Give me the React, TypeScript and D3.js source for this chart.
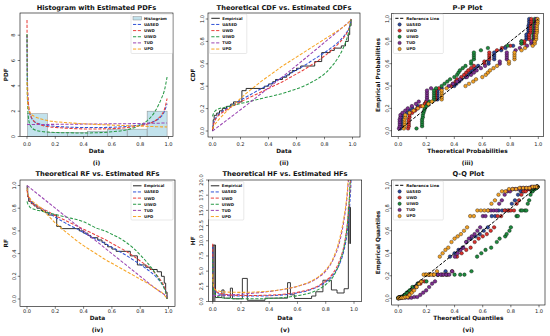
import React from "react";
import * as d3 from "d3";

const FONT = "'DejaVu Sans', 'Liberation Sans', sans-serif";

// ---------------- data ----------------
const seriesNames = ["UASED", "UWD", "UIWD", "TUD", "UPD"];
const lineColors = ["#2f52d6", "#e8403c", "#2a9a48", "#9b45b2", "#f7a525"];
const markerColors = ["#2f4a9e", "#d9302c", "#1f8a3e", "#7e2f90", "#f2a126"];

// (i) histogram + PDFs
const histEdges = [0.003, 0.144, 0.285, 0.426, 0.567, 0.708, 0.849, 0.99];
const histDensity = [1.8, 0.33, 0.33, 0.42, 0.58, 0.58, 2.0];
const pdfX = [0, 0.002, 0.005, 0.01, 0.02, 0.03, 0.05, 0.1, 0.15, 0.2, 0.3, 0.4, 0.5, 0.6, 0.7, 0.8, 0.85, 0.9, 0.93, 0.95, 0.97, 0.99];
const pdfUASED = [8.0, 4.6, 3.2, 2.4, 1.8, 1.5, 1.2, 0.95, 0.85, 0.8, 0.74, 0.71, 0.71, 0.73, 0.79, 0.92, 1.02, 1.2, 1.4, 1.6, 1.95, 2.6];
const pdfUWD = [9.2, 5.4, 3.7, 2.7, 1.9, 1.55, 1.2, 0.9, 0.78, 0.72, 0.64, 0.6, 0.6, 0.62, 0.7, 0.85, 0.98, 1.2, 1.45, 1.7, 2.1, 3.0];
const pdfUIWD = [8.1, 3.8, 2.3, 1.5, 0.95, 0.75, 0.55, 0.4, 0.35, 0.32, 0.29, 0.28, 0.3, 0.37, 0.52, 0.9, 1.25, 1.9, 2.5, 3.0, 3.6, 4.7];
const pdfTUD = [0.94, 0.94, 0.94, 0.94, 0.94, 0.94, 0.945, 0.95, 0.955, 0.96, 0.97, 0.98, 0.99, 1.0, 1.01, 1.03, 1.04, 1.05, 1.05, 1.06, 1.06, 1.07];
const pdfUPD = [4.3, 3.3, 2.6, 2.2, 1.9, 1.75, 1.6, 1.38, 1.25, 1.17, 1.08, 1.0, 0.95, 0.9, 0.86, 0.82, 0.8, 0.78, 0.77, 0.76, 0.76, 0.75];

// sample (unique values + counts), n = 50
const sampleValues = [0.001, 0.005, 0.012, 0.03, 0.05, 0.07, 0.10, 0.13, 0.15, 0.21, 0.24, 0.37, 0.40, 0.43, 0.45, 0.50, 0.53, 0.55, 0.57, 0.60, 0.63, 0.73, 0.78, 0.84, 0.87, 0.92, 0.95, 0.97, 0.98, 0.99];
const sampleCounts = [1, 4, 2, 1, 1, 1, 1, 1, 1, 5, 1, 1, 1, 1, 1, 1, 1, 1, 1, 1, 1, 2, 4, 1, 1, 1, 2, 3, 4, 3];

// (ii) CDFs, (iv) RFs
const cdfX = [0, 0.005, 0.01, 0.02, 0.03, 0.05, 0.1, 0.15, 0.2, 0.25, 0.3, 0.35, 0.4, 0.45, 0.5, 0.55, 0.6, 0.65, 0.7, 0.75, 0.8, 0.85, 0.9, 0.93, 0.95, 0.97, 0.98, 0.99];
const cdfUASED = [0.02, 0.06, 0.08, 0.11, 0.13, 0.155, 0.2, 0.24, 0.275, 0.31, 0.345, 0.38, 0.41, 0.445, 0.478, 0.51, 0.545, 0.58, 0.62, 0.66, 0.7, 0.745, 0.795, 0.835, 0.865, 0.905, 0.935, 1.0];
const cdfUWD = [0.01, 0.05, 0.07, 0.1, 0.12, 0.145, 0.19, 0.225, 0.26, 0.29, 0.32, 0.35, 0.38, 0.41, 0.44, 0.475, 0.51, 0.545, 0.585, 0.625, 0.67, 0.72, 0.78, 0.82, 0.855, 0.9, 0.935, 1.0];
const cdfUIWD = [0.13, 0.15, 0.165, 0.18, 0.19, 0.2, 0.215, 0.23, 0.245, 0.26, 0.275, 0.29, 0.305, 0.32, 0.335, 0.355, 0.375, 0.4, 0.43, 0.465, 0.51, 0.575, 0.66, 0.73, 0.79, 0.87, 0.92, 1.0];
const cdfTUD = [0, 0.005, 0.01, 0.019, 0.028, 0.047, 0.095, 0.142, 0.19, 0.238, 0.287, 0.336, 0.385, 0.434, 0.484, 0.534, 0.585, 0.636, 0.687, 0.739, 0.791, 0.843, 0.895, 0.926, 0.947, 0.968, 0.979, 1.0];
const cdfUPD = [0.02, 0.035, 0.045, 0.065, 0.08, 0.11, 0.175, 0.235, 0.29, 0.345, 0.395, 0.445, 0.49, 0.535, 0.58, 0.62, 0.66, 0.7, 0.74, 0.78, 0.82, 0.86, 0.9, 0.925, 0.945, 0.965, 0.98, 1.0];
const rfUASED = [0.98, 0.93, 0.91, 0.88, 0.86, 0.84, 0.8, 0.76, 0.72, 0.685, 0.65, 0.62, 0.585, 0.55, 0.52, 0.49, 0.455, 0.42, 0.385, 0.345, 0.305, 0.26, 0.21, 0.17, 0.14, 0.1, 0.07, 0.0];
const rfUWD = [0.96, 0.92, 0.9, 0.87, 0.85, 0.83, 0.8, 0.77, 0.735, 0.705, 0.675, 0.645, 0.615, 0.585, 0.555, 0.525, 0.49, 0.455, 0.42, 0.38, 0.335, 0.29, 0.235, 0.19, 0.155, 0.11, 0.075, 0.0];
const rfUIWD = [0.86, 0.84, 0.83, 0.81, 0.8, 0.79, 0.775, 0.76, 0.745, 0.73, 0.715, 0.7, 0.68, 0.65, 0.62, 0.6, 0.57, 0.54, 0.5, 0.45, 0.39, 0.32, 0.24, 0.18, 0.14, 0.09, 0.06, 0.0];
const rfTUD = [1.0, 0.995, 0.99, 0.98, 0.97, 0.95, 0.9, 0.85, 0.8, 0.75, 0.7, 0.65, 0.6, 0.55, 0.5, 0.45, 0.4, 0.35, 0.3, 0.25, 0.2, 0.15, 0.1, 0.075, 0.055, 0.04, 0.03, 0.02];
const rfUPD = [0.98, 0.93, 0.91, 0.89, 0.87, 0.85, 0.8, 0.735, 0.67, 0.615, 0.565, 0.515, 0.47, 0.43, 0.39, 0.35, 0.315, 0.28, 0.245, 0.21, 0.175, 0.14, 0.1, 0.075, 0.06, 0.035, 0.02, 0.0];

// (v) HFs
const hfX = [0, 0.003, 0.01, 0.02, 0.05, 0.1, 0.2, 0.3, 0.4, 0.5, 0.6, 0.7, 0.75, 0.8, 0.85, 0.9, 0.93, 0.95, 0.96, 0.97, 0.98, 0.99];
const hfUASED = [9.0, 4.0, 2.2, 1.6, 1.2, 1.0, 0.9, 0.9, 0.95, 1.1, 1.4, 2.0, 2.5, 3.2, 4.3, 6.3, 8.5, 11.0, 13.0, 16.0, 21.0, 40];
const hfUWD = [9.5, 4.5, 2.5, 1.8, 1.35, 1.15, 1.0, 1.0, 1.05, 1.2, 1.5, 2.1, 2.6, 3.4, 4.6, 6.9, 9.3, 12.3, 14.5, 18.0, 24.0, 45];
const hfUIWD = [7.0, 3.0, 1.6, 1.1, 0.7, 0.55, 0.45, 0.45, 0.5, 0.65, 0.95, 1.5, 2.0, 2.8, 4.0, 6.5, 9.0, 12.0, 14.5, 18.5, 25, 50];
const hfTUD = [0.95, 0.96, 0.97, 0.98, 1.0, 1.05, 1.2, 1.4, 1.65, 2.0, 2.5, 3.3, 4.0, 5.0, 6.8, 10.0, 13.5, 17.0, 19.8, 24, 33, 60];
const hfUPD = [4.5, 3.0, 2.2, 1.9, 1.7, 1.55, 1.5, 1.55, 1.7, 2.0, 2.5, 3.4, 4.1, 5.2, 7.0, 10.5, 14.0, 17.5, 20.5, 25, 35, 75];
const hfEmpEdges = [0, 0.02, 0.065, 0.08, 0.125, 0.14, 0.21, 0.245, 0.37, 0.53, 0.55, 0.58, 0.7, 0.73, 0.78, 0.84, 0.88, 0.93, 0.96, 0.975];
const hfEmpValues = [9.3, 0.65, 1.9, 0.55, 2.2, 0.45, 3.8, 0.2, 0.55, 3.1, 1.1, 0.5, 0.9, 1.6, 3.5, 1.9, 1.4, 2.1, 15.5];
const hfEmpEnd = 9.5;

// (iii) P-P: theoretical CDF at each unique sample value
const ppUASED = [0.015, 0.02, 0.025, 0.06, 0.08, 0.1, 0.14, 0.19, 0.2, 0.28, 0.31, 0.4, 0.415, 0.435, 0.45, 0.48, 0.5, 0.515, 0.53, 0.55, 0.57, 0.645, 0.685, 0.735, 0.765, 0.82, 0.88, 0.915, 0.93, 0.935];
const ppUWD = [0.07, 0.075, 0.08, 0.1, 0.12, 0.135, 0.16, 0.19, 0.2, 0.265, 0.29, 0.375, 0.39, 0.41, 0.42, 0.45, 0.47, 0.485, 0.5, 0.52, 0.54, 0.615, 0.65, 0.705, 0.74, 0.8, 0.9, 0.935, 0.945, 0.95];
const ppUIWD = [0.13, 0.17, 0.175, 0.18, 0.185, 0.19, 0.2, 0.21, 0.22, 0.255, 0.27, 0.31, 0.33, 0.35, 0.37, 0.4, 0.42, 0.43, 0.44, 0.46, 0.48, 0.52, 0.54, 0.59, 0.64, 0.78, 0.88, 0.965, 0.97, 0.975];
const ppTUD = [0.005, 0.01, 0.015, 0.03, 0.05, 0.068, 0.097, 0.126, 0.146, 0.205, 0.234, 0.36, 0.39, 0.42, 0.44, 0.49, 0.52, 0.54, 0.56, 0.59, 0.62, 0.725, 0.775, 0.838, 0.868, 0.92, 0.95, 0.975, 0.98, 0.985];
const ppUPD = [0.04, 0.045, 0.05, 0.08, 0.11, 0.14, 0.175, 0.215, 0.24, 0.31, 0.345, 0.48, 0.505, 0.535, 0.555, 0.6, 0.625, 0.64, 0.655, 0.68, 0.705, 0.79, 0.83, 0.88, 0.905, 0.96, 0.975, 0.985, 0.99, 0.995];

// (vi) Q-Q: theoretical quantile for each of the 50 ordered observations
const qqUASED = [0.0, 0.001, 0.004, 0.008, 0.013, 0.02, 0.03, 0.046, 0.067, 0.089, 0.112, 0.137, 0.164, 0.193, 0.221, 0.25, 0.279, 0.307, 0.336, 0.367, 0.4, 0.428, 0.457, 0.486, 0.517, 0.548, 0.579, 0.607, 0.636, 0.664, 0.688, 0.713, 0.738, 0.762, 0.786, 0.807, 0.829, 0.851, 0.871, 0.89, 0.906, 0.92, 0.933, 0.946, 0.956, 0.968, 0.978, 0.983, 0.987, 0.99];
const qqUWD = [0.0, 0.002, 0.005, 0.01, 0.018, 0.025, 0.04, 0.06, 0.078, 0.1, 0.129, 0.157, 0.186, 0.217, 0.25, 0.283, 0.317, 0.35, 0.383, 0.417, 0.45, 0.483, 0.514, 0.543, 0.571, 0.6, 0.629, 0.657, 0.681, 0.706, 0.731, 0.756, 0.779, 0.8, 0.822, 0.841, 0.858, 0.875, 0.891, 0.906, 0.918, 0.93, 0.942, 0.95, 0.958, 0.966, 0.975, 0.982, 0.986, 0.99];
const qqUIWD = [0.0, 0.0, 0.005, 0.01, 0.015, 0.02, 0.03, 0.045, 0.06, 0.08, 0.1, 0.14, 0.2, 0.28, 0.34, 0.4, 0.44, 0.47, 0.52, 0.56, 0.59, 0.62, 0.66, 0.7, 0.72, 0.76, 0.77, 0.79, 0.8, 0.84, 0.85, 0.87, 0.88, 0.9, 0.91, 0.92, 0.93, 0.94, 0.95, 0.955, 0.96, 0.965, 0.97, 0.975, 0.978, 0.98, 0.983, 0.985, 0.988, 0.99];
const qqTUD = [0.01, 0.03, 0.05, 0.072, 0.093, 0.114, 0.135, 0.156, 0.177, 0.198, 0.219, 0.24, 0.261, 0.282, 0.302, 0.322, 0.342, 0.362, 0.382, 0.402, 0.422, 0.442, 0.462, 0.482, 0.502, 0.522, 0.542, 0.562, 0.582, 0.601, 0.62, 0.64, 0.659, 0.678, 0.698, 0.717, 0.736, 0.756, 0.775, 0.794, 0.813, 0.832, 0.851, 0.87, 0.889, 0.908, 0.927, 0.946, 0.965, 0.984];
const qqUPD = [0.001, 0.004, 0.012, 0.023, 0.037, 0.05, 0.066, 0.08, 0.096, 0.112, 0.13, 0.146, 0.163, 0.18, 0.2, 0.218, 0.235, 0.255, 0.275, 0.295, 0.315, 0.335, 0.355, 0.378, 0.4, 0.422, 0.445, 0.467, 0.489, 0.511, 0.537, 0.562, 0.587, 0.612, 0.637, 0.662, 0.687, 0.712, 0.737, 0.762, 0.787, 0.812, 0.837, 0.862, 0.887, 0.911, 0.933, 0.955, 0.973, 0.986];

const unitTicks = [0, 0.2, 0.4, 0.6, 0.8, 1.0];
const pdfTicks = [0, 2, 4, 6, 8];
const hfTicks = [0, 2.5, 5, 7.5, 10, 12.5, 15, 17.5, 20];

// ---------------- derived ----------------
const nSample = d3.sum(sampleCounts);
const sortedSample: number[] = sampleValues.flatMap((v, i) => Array(sampleCounts[i]).fill(v));
const ecdfSteps: { x: number; y: number }[] = (() => {
  let c = 0;
  return sampleValues.map((v, i) => {
    c += sampleCounts[i];
    return { x: v, y: c / nSample };
  });
})();

// ---------------- layout ----------------
type Box = { l: number; r: number; t: number; b: number };
type PanelCfg = {
  id: string;
  box: Box;
  xr: [number, number];
  yd: [number, number];
  yr: [number, number];
  yTicks: number[];
  yFmt: (v: number) => string;
  title: string;
  xLabel: string;
  yLabel: string;
  tag: string;
  titleY: number;
  tickY: number;
  xLabelY: number;
  tagY: number;
  yTickX: number;
  yLabelX: number;
};

const f1 = d3.format(".1f");
const fInt = d3.format("d");

const TOP = { titleY: 10.2, tickY: 145.5, xLabelY: 152.6, tagY: 164.6 };
const BOT = { titleY: 176.4, tickY: 313.4, xLabelY: 320.2, tagY: 332 };

const panels: Record<string, PanelCfg> = {
  pdf: { id: "p1", box: { l: 20, r: 173, t: 13, b: 136.5 }, xr: [27, 168.5], yd: [0, 8], yr: [136.5, 35.2], yTicks: pdfTicks, yFmt: fInt,
    title: "Histogram with Estimated PDFs", xLabel: "Data", yLabel: "PDF", tag: "(i)", ...TOP, yTickX: 13.3, yLabelX: 5.8 },
  cdf: { id: "p2", box: { l: 208, r: 360, t: 13, b: 137 }, xr: [212.5, 352.5], yd: [0, 1], yr: [131, 19], yTicks: unitTicks, yFmt: f1,
    title: "Theoretical CDF vs. Estimated CDFs", xLabel: "Data", yLabel: "CDF", tag: "(ii)", ...TOP, yTickX: 202.3, yLabelX: 192.5 },
  pp: { id: "p3", box: { l: 391.7, r: 543.3, t: 13.3, b: 136.7 }, xr: [398.3, 538.3], yd: [0, 1], yr: [130.7, 19], yTicks: unitTicks, yFmt: f1,
    title: "P-P Plot", xLabel: "Theoretical Probabilities", yLabel: "Empirical Probabilities", tag: "(iii)", ...TOP, yTickX: 386.8, yLabelX: 377.5 },
  rf: { id: "p4", box: { l: 20, r: 175, t: 180, b: 306.5 }, xr: [27, 168.5], yd: [0, 1], yr: [299, 185.5], yTicks: unitTicks, yFmt: f1,
    title: "Theoretical RF vs. Estimated RFs", xLabel: "Data", yLabel: "RF", tag: "(iv)", ...BOT, yTickX: 13.8, yLabelX: 6.2 },
  hf: { id: "p5", box: { l: 208.3, r: 361.7, t: 180, b: 301.5 }, xr: [212.7, 354], yd: [0, 20], yr: [301.5, 180], yTicks: hfTicks, yFmt: f1,
    title: "Theoretical HF vs. Estimated HFs", xLabel: "Data", yLabel: "HF", tag: "(v)", ...BOT, tickY: 311.3, yTickX: 201.3, yLabelX: 192.5 },
  qq: { id: "p6", box: { l: 391.7, r: 545, t: 180, b: 305 }, xr: [398.3, 539], yd: [0, 1], yr: [298.3, 185.7], yTicks: unitTicks, yFmt: f1,
    title: "Q-Q Plot", xLabel: "Theoretical Quantiles", yLabel: "Empirical Quantiles", tag: "(vi)", ...BOT, yTickX: 386.8, yLabelX: 377.5 },
};

const DASH = "3.2,1.6";
const TEXT = "#222";
const TICK_FS = 5.1;

function scalesOf(cfg: PanelCfg) {
  const x = d3.scaleLinear().domain([0, 1]).range(cfg.xr);
  const y = d3.scaleLinear().domain(cfg.yd).range(cfg.yr);
  return { x, y };
}

function Axes({ cfg, children }: { cfg: PanelCfg; children: React.ReactNode }) {
  const { box } = cfg;
  const { x, y } = scalesOf(cfg);
  const cx = (box.l + box.r) / 2;
  const cy = (box.t + box.b) / 2;
  return (
    <g>
      <defs>
        <clipPath id={`clip-${cfg.id}`}>
          <rect x={box.l} y={box.t} width={box.r - box.l} height={box.b - box.t} />
        </clipPath>
      </defs>
      <g clipPath={`url(#clip-${cfg.id})`}>{children}</g>
      <rect x={box.l} y={box.t} width={box.r - box.l} height={box.b - box.t} fill="none" stroke="#000" strokeWidth={0.6} />
      {unitTicks.map((t) => (
        <g key={`xt${t}`}>
          <line x1={x(t)} x2={x(t)} y1={box.b} y2={box.b + 2.3} stroke="#000" strokeWidth={0.5} />
          <text x={x(t)} y={cfg.tickY} fontSize={TICK_FS} fontFamily={FONT} fill={TEXT} textAnchor="middle">{f1(t)}</text>
        </g>
      ))}
      {cfg.yTicks.map((t) => (
        <g key={`yt${t}`}>
          <line x1={box.l - 2.3} x2={box.l} y1={y(t)} y2={y(t)} stroke="#000" strokeWidth={0.5} />
          <text transform={`translate(${cfg.yTickX},${y(t)}) rotate(-90)`} dy="0.36em" fontSize={TICK_FS} fontFamily={FONT} fill={TEXT} textAnchor="middle">{cfg.yFmt(t)}</text>
        </g>
      ))}
      <text x={cx} y={cfg.titleY} fontSize={6.7} fontWeight="bold" fontFamily={FONT} fill="#111" textAnchor="middle">{cfg.title}</text>
      <text x={cx} y={cfg.xLabelY} fontSize={5.8} fontWeight="bold" fontFamily={FONT} fill="#111" textAnchor="middle">{cfg.xLabel}</text>
      <text transform={`translate(${cfg.yLabelX},${cy}) rotate(-90)`} dy="0.36em" fontSize={5.8} fontWeight="bold" fontFamily={FONT} fill="#111" textAnchor="middle">{cfg.yLabel}</text>
      <text x={cx} y={cfg.tagY} fontSize={6} fontWeight="bold" fontFamily={FONT} fill="#111" textAnchor="middle">{cfg.tag}</text>
    </g>
  );
}

type LegendItem = { label: string; kind: "patch" | "line" | "dash" | "dot"; color: string };
function Legend({ x, y, w, h, items }: { x: number; y: number; w: number; h: number; items: LegendItem[] }) {
  return (
    <g>
      <rect x={x} y={y} width={w} height={h} rx={1} fill="#fff" fillOpacity={0.85} stroke="#d0d0d0" strokeWidth={0.5} />
      {items.map((it, i) => {
        const cy = y + 4.3 + i * 6.15;
        return (
          <g key={it.label}>
            {it.kind === "patch" && <rect x={x + 2} y={cy - 1.7} width={8.5} height={3.4} fill="#add8e6" fillOpacity={0.75} stroke="#777" strokeWidth={0.4} />}
            {it.kind === "line" && <line x1={x + 2} x2={x + 10.5} y1={cy} y2={cy} stroke={it.color} strokeWidth={1} />}
            {it.kind === "dash" && <line x1={x + 2} x2={x + 10.5} y1={cy} y2={cy} stroke={it.color} strokeWidth={1} strokeDasharray={DASH} />}
            {it.kind === "dot" && <circle cx={x + 6.3} cy={cy} r={1.7} fill={it.color} stroke="#000" strokeWidth={0.35} />}
            <text x={x + 13} y={cy + 1.4} fontSize={3.9} fontWeight="bold" fontFamily={FONT} fill="#111">{it.label}</text>
          </g>
        );
      })}
    </g>
  );
}

function curvePath(xs: number[], ys: number[], sx: d3.ScaleLinear<number, number>, sy: d3.ScaleLinear<number, number>) {
  const pts: [number, number][] = xs.map((v, i) => [v, ys[i]]);
  return d3.line<[number, number]>().x((d) => sx(d[0])).y((d) => sy(d[1])).curve(d3.curveMonotoneX)(pts) || "";
}

function Curves({ xs, series, sx, sy }: { xs: number[]; series: number[][]; sx: any; sy: any }) {
  return (
    <g>
      {series.map((ys, i) => (
        <path key={i} d={curvePath(xs, ys, sx, sy)} fill="none" stroke={lineColors[i]} strokeWidth={1.05} strokeDasharray={DASH} />
      ))}
    </g>
  );
}

const dashItems: LegendItem[] = seriesNames.map((n, i) => ({ label: n, kind: "dash", color: lineColors[i] }));
const dotItems: LegendItem[] = seriesNames.map((n, i) => ({ label: n, kind: "dot", color: markerColors[i] }));

function PdfPanel() {
  const cfg = panels.pdf;
  const { x, y } = scalesOf(cfg);
  return (
    <g>
      <Axes cfg={cfg}>
        {histDensity.map((d, i) => (
          <rect key={i} x={x(histEdges[i])} y={y(d)} width={x(histEdges[i + 1]) - x(histEdges[i])} height={y(0) - y(d)}
            fill="#add8e6" fillOpacity={0.75} stroke="#8a8a8a" strokeWidth={0.5} />
        ))}
        <Curves xs={pdfX} series={[pdfUASED, pdfUWD, pdfUIWD, pdfTUD, pdfUPD]} sx={x} sy={y} />
      </Axes>
      <Legend x={131} y={14} w={41.5} h={39.5} items={[{ label: "Histogram", kind: "patch", color: "" }, ...dashItems]} />
    </g>
  );
}

function ecdfPath(sx: any, sy: any, reverse: boolean) {
  const v = (p: number) => (reverse ? 1 - p : p);
  let d = `M${sx(0)},${sy(v(0))}H${sx(sampleValues[0])}`;
  ecdfSteps.forEach((s, i) => {
    d += `V${sy(v(s.y))}`;
    if (i < ecdfSteps.length - 1) d += `H${sx(ecdfSteps[i + 1].x)}`;
  });
  return d;
}

function CdfPanel() {
  const cfg = panels.cdf;
  const { x, y } = scalesOf(cfg);
  return (
    <g>
      <Axes cfg={cfg}>
        <path d={ecdfPath(x, y, false)} fill="none" stroke="#222" strokeWidth={0.95} />
        <Curves xs={cdfX} series={[cdfUASED, cdfUWD, cdfUIWD, cdfTUD, cdfUPD]} sx={x} sy={y} />
      </Axes>
      <Legend x={209.3} y={14} w={37.5} h={39.5} items={[{ label: "Empirical", kind: "line", color: "#222" }, ...dashItems]} />
    </g>
  );
}

function RfPanel() {
  const cfg = panels.rf;
  const { x, y } = scalesOf(cfg);
  return (
    <g>
      <Axes cfg={cfg}>
        <path d={ecdfPath(x, y, true)} fill="none" stroke="#222" strokeWidth={0.95} />
        <Curves xs={cdfX} series={[rfUASED, rfUWD, rfUIWD, rfTUD, rfUPD]} sx={x} sy={y} />
      </Axes>
      <Legend x={131} y={181.5} w={42} h={38.5} items={[{ label: "Empirical", kind: "line", color: "#222" }, ...dashItems]} />
    </g>
  );
}

function HfPanel() {
  const cfg = panels.hf;
  const { x, y } = scalesOf(cfg);
  let d = `M${x(hfEmpEdges[0])},${y(0)}`;
  hfEmpValues.forEach((v, i) => {
    d += `V${y(v)}H${x(hfEmpEdges[i + 1])}`;
  });
  d += `V${y(hfEmpEnd)}`;
  const last = hfEmpValues.length - 1;
  return (
    <g>
      <Axes cfg={cfg}>
        <rect x={x(hfEmpEdges[0])} y={y(hfEmpValues[0])} width={x(hfEmpEdges[1]) - x(hfEmpEdges[0])} height={y(0) - y(hfEmpValues[0])} fill="#777" />
        <rect x={x(hfEmpEdges[last])} y={y(hfEmpValues[last])} width={x(hfEmpEdges[last + 1]) - x(hfEmpEdges[last])} height={y(hfEmpEnd) - y(hfEmpValues[last])} fill="#777" />
        <path d={d} fill="none" stroke="#222" strokeWidth={0.9} />
        <Curves xs={hfX} series={[hfUASED, hfUWD, hfUIWD, hfTUD, hfUPD]} sx={x} sy={y} />
      </Axes>
      <Legend x={208.8} y={181.5} w={35} h={38.5} items={[{ label: "Empirical", kind: "line", color: "#222" }, ...dashItems]} />
    </g>
  );
}

function Dots({ pts, color, sx, sy }: { pts: [number, number][]; color: string; sx: any; sy: any }) {
  return (
    <g>
      {pts.map((p, i) => (
        <circle key={i} cx={sx(p[0])} cy={sy(p[1])} r={1.8} fill={color} stroke="#000" strokeWidth={0.35} />
      ))}
    </g>
  );
}

function PpPanel() {
  const cfg = panels.pp;
  const { x, y } = scalesOf(cfg);
  const all = [ppUASED, ppUWD, ppUIWD, ppTUD, ppUPD];
  const seriesPts = all.map((arr) => {
    const pts: [number, number][] = [];
    let rank = 0;
    sampleValues.forEach((_, j) => {
      for (let k = 0; k < sampleCounts[j]; k++) {
        rank += 1;
        pts.push([arr[j], rank / nSample]);
      }
    });
    return pts;
  });
  return (
    <g>
      <Axes cfg={cfg}>
        {seriesPts.map((pts, i) => <Dots key={i} pts={pts} color={markerColors[i]} sx={x} sy={y} />)}
        <line x1={x(0)} y1={y(0)} x2={x(1)} y2={y(1)} stroke="#000" strokeWidth={1} strokeDasharray={DASH} />
      </Axes>
      <Legend x={393.3} y={14} w={50} h={39.5} items={[{ label: "Reference Line", kind: "dash", color: "#000" }, ...dotItems]} />
    </g>
  );
}

function QqPanel() {
  const cfg = panels.qq;
  const { x, y } = scalesOf(cfg);
  const all = [qqUASED, qqUWD, qqUIWD, qqTUD, qqUPD];
  return (
    <g>
      <Axes cfg={cfg}>
        {all.map((arr, i) => (
          <Dots key={i} pts={arr.map((q, k) => [q, sortedSample[k]] as [number, number])} color={markerColors[i]} sx={x} sy={y} />
        ))}
        <line x1={x(0)} y1={y(0)} x2={x(1)} y2={y(1)} stroke="#000" strokeWidth={1} strokeDasharray={DASH} />
      </Axes>
      <Legend x={393.3} y={181} w={50} h={39} items={[{ label: "Reference Line", kind: "dash", color: "#000" }, ...dotItems]} />
    </g>
  );
}

export default function App() {
  return (
    <svg width={550} height={336} viewBox="0 0 550 336" style={{ position: "absolute", left: 0, top: 0, background: "#fff" }}>
      <rect width={550} height={336} fill="#fff" />
      <PdfPanel />
      <CdfPanel />
      <PpPanel />
      <RfPanel />
      <HfPanel />
      <QqPanel />
    </svg>
  );
}
